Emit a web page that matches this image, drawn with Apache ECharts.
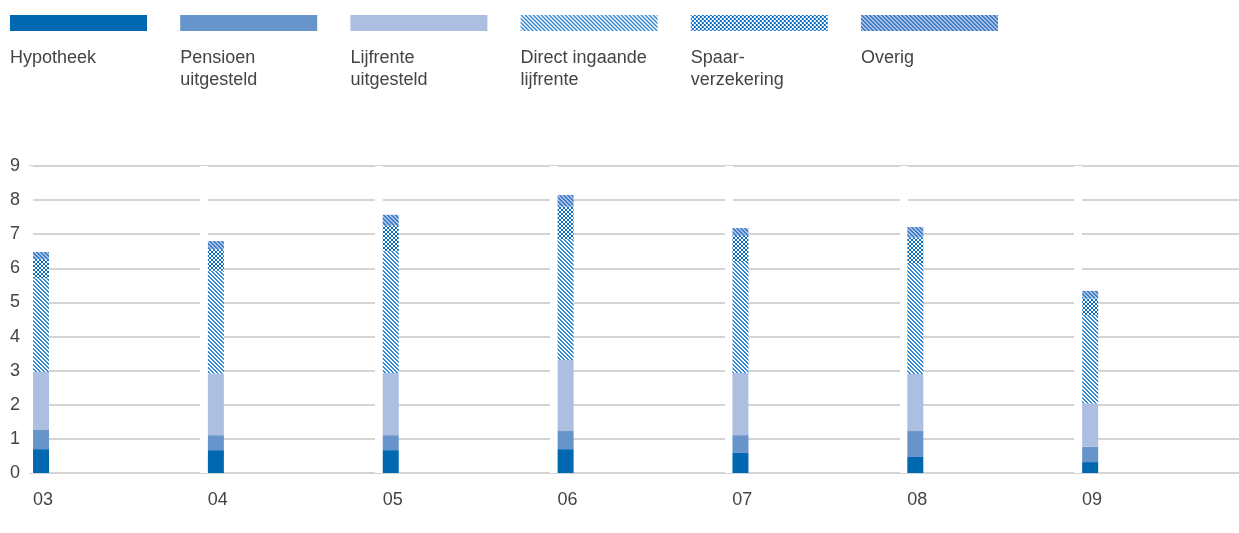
<!DOCTYPE html>
<html>
<head>
<meta charset="utf-8">
<script src="https://cdn.jsdelivr.net/npm/echarts@6/dist/echarts.min.js"></script>
<style>
  html, body { margin: 0; padding: 0; background: #fff; }
  #chart { width: 1239px; height: 533px; }
</style>
</head>
<body>
<div id="chart"></div>
<script>
// jaren (x-as)
const years = ['03', '04', '05', '06', '07', '08', '09']

// waarden per productgroep
const hypotheek = [0.70, 0.67, 0.67, 0.70, 0.59, 0.47, 0.32]
const pensioenUitgesteld = [0.56, 0.44, 0.44, 0.53, 0.52, 0.76, 0.45]
const lijfrenteUitgesteld = [1.70, 1.81, 1.82, 2.08, 1.82, 1.67, 1.27]
const directIngaand = [2.75, 3.01, 3.57, 3.54, 3.26, 3.23, 2.59]
const spaarverzekering = [0.56, 0.63, 0.75, 0.96, 0.76, 0.77, 0.49]
const overig = [0.21, 0.24, 0.32, 0.34, 0.23, 0.31, 0.22]

const seriesNames = ['Hypotheek', 'Pensioen uitgesteld', 'Lijfrente uitgesteld', 'Direct ingaande lijfrente', 'Spaarverzekering', 'Overig']
const legendLabels = ['Hypotheek', 'Pensioen\nuitgesteld', 'Lijfrente\nuitgesteld', 'Direct ingaande\nlijfrente', 'Spaar-\nverzekering', 'Overig']
const yMin = 0
const yMax = 9
const yStep = 1

const FONT = '"Liberation Sans", Arial, sans-serif'
const TEXT = '#444444'

// kleine tegel als vulpatroon
function pattern(size, bg, fg, test) {
  const c = document.createElement('canvas')
  c.width = c.height = size
  const ctx = c.getContext('2d')
  ctx.fillStyle = bg
  ctx.fillRect(0, 0, size, size)
  ctx.fillStyle = fg
  for (let y = 0; y < size; y++) {
    for (let x = 0; x < size; x++) {
      if (test(x, y)) ctx.fillRect(x, y, 1, 1)
    }
  }
  return { image: c, repeat: 'repeat' }
}

const stripe = (x, y) => ((x - y + 8) % 4) < 2
const cross = (x, y) => x === y || x + y === 3

const colors = [
  '#0067b1',
  '#6694cb',
  '#adbfe1',
  pattern(4, '#ffffff', '#3388d4', stripe),
  pattern(4, '#ffffff', '#0a6cc0', cross),
  pattern(4, '#a9c1e5', '#3f7ec6', stripe),
]

const values = [hypotheek, pensioenUitgesteld, lijfrenteUitgesteld, directIngaand, spaarverzekering, overig]

const chart = echarts.init(document.getElementById('chart'), null, { renderer: 'canvas' })

const series = values.map((d, i) => ({
  name: seriesNames[i],
  type: 'bar',
  stack: 'total',
  barWidth: 16,
  barGap: '0%',
  data: d,
  itemStyle: { color: colors[i] },
  emphasis: { disabled: true },
}))
// lege reeks om de staaf links in de categorie te zetten
series.push({
  name: '_pad',
  type: 'bar',
  barWidth: 150.8,
  barGap: '0%',
  silent: true,
  data: years.map(() => null),
})

chart.setOption({
  animation: false,
  legend: seriesNames.map((n, i) => ({
    data: [n],
    left: 10 + i * 170.2,
    top: 15,
    padding: 0,
    itemWidth: 137,
    itemHeight: 16,
    icon: 'rect',
    selectedMode: false,
    formatter: () => '',
  })),
  graphic: legendLabels.map((t, i) => ({
    type: 'text',
    left: 10 + i * 170.2,
    top: 47,
    style: { text: t, fontSize: 18, fontFamily: FONT, fill: TEXT, lineHeight: 22 },
  })),
  grid: { left: 29, top: 166, width: 1224, bottom: 60, containLabel: false, outerBoundsMode: 'none' },
  xAxis: {
    type: 'category',
    data: years,
    z: 1,
    axisLine: { show: false },
    axisTick: { show: false },
    splitLine: { show: true, interval: 0, lineStyle: { color: '#ffffff', width: 8 } },
    axisLabel: {
      interval: 0,
      margin: 18,
      formatter: (v) => `{a|${v}}`,
      rich: { a: { width: 167, align: 'left', fontSize: 18, fontFamily: FONT, color: TEXT } },
    },
  },
  yAxis: {
    type: 'value',
    min: yMin,
    max: yMax,
    interval: yStep,
    z: 0,
    axisLine: { show: false },
    axisTick: { show: false },
    axisLabel: { margin: 9, fontSize: 18, fontFamily: FONT, color: TEXT },
    splitLine: { lineStyle: { color: '#c6c6c6', width: 1.5 } },
  },
  series,
})
</script>
</body>
</html>
